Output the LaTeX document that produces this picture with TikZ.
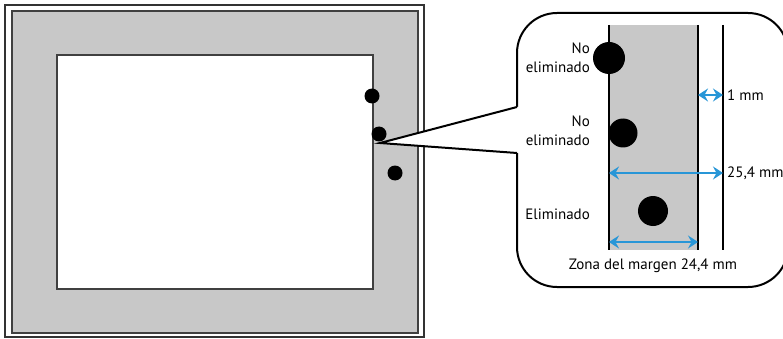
\documentclass[tikz,border=0pt]{standalone}
\usepackage{fontspec}
\setmainfont{PT Sans}
\usetikzlibrary{arrows.meta}
\definecolor{margingray}{RGB}{200,200,200}
\definecolor{rulerblue}{RGB}{40,150,215}
\begin{document}
\begin{tikzpicture}[x=1pt,y=-1pt,
    hole/.style={circle,fill=black,inner sep=0pt,minimum size=#1},
    measure/.style={rulerblue,line width=2pt,{Stealth[length=10pt,width=13pt,inset=3.5pt]}-{Stealth[length=10pt,width=13pt,inset=3.5pt]}},
    caption/.style={font=\fontsize{15}{19.5}\selectfont,text=black,inner sep=0pt}]
    \useasboundingbox (0,0) rectangle (783,339);
    % sheet with its margin
    \draw[line width=1.2pt,draw=black!80] (5,5) rectangle (424,337);
    \draw[line width=1.5pt,draw=black!75,fill=margingray] (12,11) rectangle (418,333);
    \draw[line width=1.2pt,draw=black!75,fill=white] (57,55) rectangle (373,289);
    \node[hole=15pt] (p1) at (372,96) {};
    \node[hole=15pt] (p2) at (379,134) {};
    \node[hole=15pt] (p3) at (395,173) {};
    % callout
    \draw[line width=2pt,fill=white,rounded corners=40pt] (517,13) rectangle (788,287);
    \fill[white] (380,143) -- (517,107) -- (520,107) -- (520,153) -- (517,153) -- cycle;
    \draw[line width=2pt] (517,107) -- (380,143) -- (517,153);
    % zoomed margin
    \fill[margingray] (609,25) rectangle (698,250);
    \coordinate (inTop) at (609,25);
    \coordinate (inBot) at (609,250);
    \coordinate (edgeTop) at (698,25);
    \coordinate (edgeBot) at (698,250);
    \coordinate (cutTop) at (723,25);
    \coordinate (cutBot) at (723,250);
    \draw[line width=2.2pt] (inTop) -- (inBot);
    \draw[line width=2.2pt] (edgeTop) -- (edgeBot);
    \draw[line width=1.5pt] (cutTop) -- (cutBot);
    \node[hole=32pt] (h1) at (609,58) {};
    \node[hole=29pt] (h2) at (623,133) {};
    \node[hole=30pt] (h3) at (653,211) {};
    \node[caption,anchor=east,align=right] (l1) at (590,58) {No\\eliminado};
    \node[caption,anchor=east,align=right] (l2) at (590,131) {No\\eliminado};
    \node[caption,anchor=east] (l3) at (590,214) {Eliminado};
    % measures
    \coordinate (a1) at (698,95);
    \coordinate (b1) at (723,95);
    \draw[measure] (a1) -- (b1);
    \node[caption,anchor=west] (m1) at (727,95) {1 mm};
    \coordinate (a2) at (609,173);
    \coordinate (b2) at (723,173);
    \draw[measure] (a2) -- (b2);
    \node[caption,anchor=west] (m2) at (727,173) {25,4 mm};
    \coordinate (a3) at (609,242);
    \coordinate (b3) at (698,242);
    \draw[measure] (a3) -- (b3);
    \node[caption] (m3) at (653,266) {Zona del margen 24,4 mm};
\end{tikzpicture}
\end{document}
